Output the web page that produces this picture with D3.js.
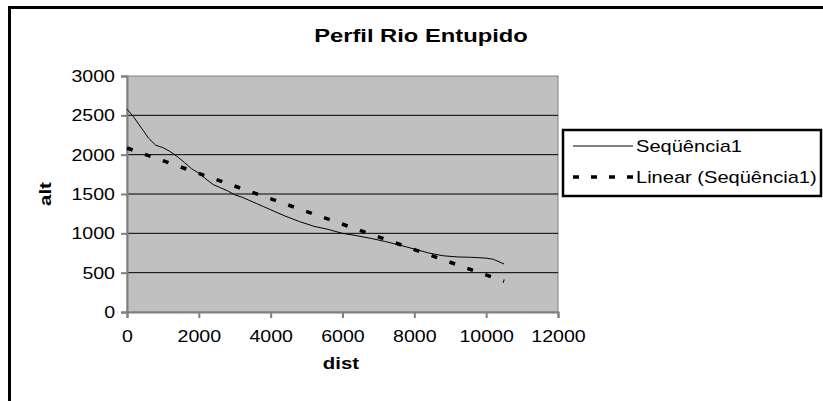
<!DOCTYPE html>
<html>
<head>
<meta charset="utf-8">
<script src="https://cdn.jsdelivr.net/npm/d3@7"></script>
<style>
  body { margin: 0; background: #fff; }
  text { font-family: Arial, "Liberation Sans", sans-serif; }
</style>
</head>
<body>
<div id="chart"></div>
<script>
// profile data
var dist = [0, 200, 400, 600, 800, 1000, 1200, 1400, 1600, 1800, 2000, 2200, 2400, 2600, 2800,
  3000, 3200, 3400, 3600, 3800, 4000, 4400, 4800, 5200, 5600, 6000, 6400, 6800, 7200, 7600,
  8000, 8400, 8800, 9200, 9600, 10000, 10200, 10500];
var alt = [2580, 2470, 2340, 2210, 2120, 2090, 2040, 1975, 1900, 1820, 1765, 1690, 1620, 1580, 1540,
  1490, 1460, 1420, 1380, 1340, 1300, 1220, 1150, 1090, 1050, 1000, 970, 935, 895, 850,
  800, 750, 715, 700, 695, 685, 670, 610];
// trend line ends
var trendDist = [0, 10500];
var trendAlt = [2085, 390];

var xTicks = [0, 2000, 4000, 6000, 8000, 10000, 12000];
var yTicks = [0, 500, 1000, 1500, 2000, 2500, 3000];
var seriesNames = ["Seqüência1", "Linear (Seqüência1)"];

var W = 823, H = 401;
var pLeft = 127, pRight = 558, pTop = 76, pBottom = 312;

// the original text is a bit wider than Arial, stretch it
function stretch(sel, k) {
  sel.each(function () {
    var l = this.getComputedTextLength();
    d3.select(this).attr("textLength", l * k).attr("lengthAdjust", "spacingAndGlyphs");
  });
}

var svg = d3.select("#chart").append("svg")
  .attr("width", W).attr("height", H);

// outer chart border
svg.append("rect")
  .attr("x", 9.5).attr("y", 7.5)
  .attr("width", 900).attr("height", 500)
  .attr("fill", "none").attr("stroke", "#000").attr("stroke-width", 3);

var x = d3.scaleLinear().domain([0, 12000]).range([pLeft, pRight]);
var y = d3.scaleLinear().domain([0, 3000]).range([pBottom, pTop]);

// plot area
svg.append("rect")
  .attr("x", pLeft).attr("y", pTop)
  .attr("width", pRight - pLeft).attr("height", pBottom - pTop)
  .attr("fill", "#c0c0c0").attr("stroke", "#808080").attr("stroke-width", 1);

// gridlines
svg.selectAll(".grid")
  .data(yTicks.filter(function (d) { return d > 0 && d < 3000; }))
  .enter().append("line")
  .attr("x1", pLeft).attr("x2", pRight)
  .attr("y1", function (d) { return y(d); })
  .attr("y2", function (d) { return y(d); })
  .attr("stroke", "#000").attr("stroke-width", 1);

// axes
var yAxis = svg.append("g")
  .attr("transform", "translate(" + pLeft + ",0)")
  .call(d3.axisLeft(y).tickValues(yTicks).tickSize(6).tickPadding(6).tickFormat(d3.format("d")));
var xAxis = svg.append("g")
  .attr("transform", "translate(0," + pBottom + ")")
  .call(d3.axisBottom(x).tickValues(xTicks).tickSize(6).tickPadding(12).tickFormat(d3.format("d")));

[xAxis, yAxis].forEach(function (g) {
  g.select(".domain").attr("stroke", "#808080").attr("stroke-width", 2);
  g.selectAll(".tick line").attr("stroke", "#808080").attr("stroke-width", 2);
  g.selectAll("text").attr("font-size", 17).attr("fill", "#000")
    .attr("font-family", "Arial, 'Liberation Sans', sans-serif");
  stretch(g.selectAll("text"), 1.15);
});

// profile line
var pts = dist.map(function (d, i) { return [d, alt[i]]; });
svg.append("path")
  .datum(pts)
  .attr("fill", "none").attr("stroke", "#000").attr("stroke-width", 1)
  .attr("d", d3.line().x(function (d) { return x(d[0]); }).y(function (d) { return y(d[1]); }));

// linear trend
var tpts = trendDist.map(function (d, i) { return [d, trendAlt[i]]; });
svg.append("path")
  .datum(tpts)
  .attr("fill", "none").attr("stroke", "#000").attr("stroke-width", 3.5)
  .attr("stroke-dasharray", "6,13")
  .attr("d", d3.line().x(function (d) { return x(d[0]); }).y(function (d) { return y(d[1]); }));

// titles
var title = svg.append("text")
  .attr("x", 421).attr("y", 42)
  .attr("text-anchor", "middle").attr("font-weight", "bold").attr("font-size", 19)
  .text("Perfil Rio Entupido");
stretch(title, 1.25);
var xTitle = svg.append("text")
  .attr("x", 341).attr("y", 369)
  .attr("text-anchor", "middle").attr("font-weight", "bold").attr("font-size", 17)
  .text("dist");
stretch(xTitle, 1.2);
var yTitle = svg.append("text")
  .attr("transform", "translate(51,194) rotate(-90)")
  .attr("text-anchor", "middle").attr("font-weight", "bold").attr("font-size", 17)
  .text("alt");
stretch(yTitle, 1.2);

// legend
var leg = svg.append("g");
leg.append("rect")
  .attr("x", 563).attr("y", 130).attr("width", 258).attr("height", 66)
  .attr("fill", "#fff").attr("stroke", "#000").attr("stroke-width", 2.5);
leg.selectAll(".legline")
  .data(seriesNames)
  .enter().append("line")
  .attr("x1", 573).attr("x2", 633)
  .attr("y1", function (d, i) { return 146 + i * 31; })
  .attr("y2", function (d, i) { return 146 + i * 31; })
  .attr("stroke", "#000")
  .attr("stroke-width", function (d, i) { return i === 0 ? 1 : 3.5; })
  .attr("stroke-dasharray", function (d, i) { return i === 0 ? null : "6,12"; });
var legText = leg.selectAll(".legtext")
  .data(seriesNames)
  .enter().append("text")
  .attr("x", 636)
  .attr("y", function (d, i) { return 146 + i * 31; })
  .attr("dy", "0.35em").attr("font-size", 17)
  .text(function (d) { return d; });
stretch(legText, 1.18);
</script>
</body>
</html>
